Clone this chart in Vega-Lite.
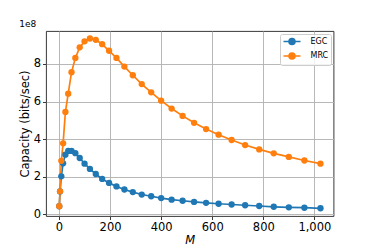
{
  "$schema": "https://vega.github.io/schema/vega-lite/v6.json",
  "autosize": {"type": "none"},
  "width": 287.5,
  "height": 185,
  "padding": {"left": 46, "top": 31, "right": 38.5, "bottom": 32},
  "background": "white",
  "title": {"text": "1e8", "anchor": "start", "fontSize": 9, "fontWeight": "normal", "font": "DejaVu Sans", "color": "#000", "offset": 2},
  "config": {
    "font": "DejaVu Sans",
    "view": {"stroke": "#222", "strokeWidth": 0.9},
    "axis": {
      "grid": true, "gridColor": "#b0b0b0", "gridWidth": 1, "gridOpacity": 0.9,
      "domain": false, "tickColor": "#222", "tickSize": 3.5, "tickWidth": 0.9,
      "labelFontSize": 11.5, "labelColor": "#000", "labelFont": "DejaVu Sans",
      "titleFontSize": 11.5, "titleFontWeight": "normal", "titleColor": "#000", "titleFont": "DejaVu Sans"
    }
  },
  "data": {"values": [
    {"M":1,"Scheme":"EGC","Capacity":44000000},
    {"M":4,"Scheme":"EGC","Capacity":122000000},
    {"M":9,"Scheme":"EGC","Capacity":203000000},
    {"M":16,"Scheme":"EGC","Capacity":272000000},
    {"M":25,"Scheme":"EGC","Capacity":318000000},
    {"M":36,"Scheme":"EGC","Capacity":338000000},
    {"M":49,"Scheme":"EGC","Capacity":338000000},
    {"M":64,"Scheme":"EGC","Capacity":326000000},
    {"M":81,"Scheme":"EGC","Capacity":300000000},
    {"M":100,"Scheme":"EGC","Capacity":270000000},
    {"M":121,"Scheme":"EGC","Capacity":242000000},
    {"M":144,"Scheme":"EGC","Capacity":215000000},
    {"M":169,"Scheme":"EGC","Capacity":189000000},
    {"M":196,"Scheme":"EGC","Capacity":168000000},
    {"M":225,"Scheme":"EGC","Capacity":149000000},
    {"M":256,"Scheme":"EGC","Capacity":133000000},
    {"M":289,"Scheme":"EGC","Capacity":119000000},
    {"M":324,"Scheme":"EGC","Capacity":106000000},
    {"M":361,"Scheme":"EGC","Capacity":97000000},
    {"M":400,"Scheme":"EGC","Capacity":87000000},
    {"M":441,"Scheme":"EGC","Capacity":79000000},
    {"M":484,"Scheme":"EGC","Capacity":73000000},
    {"M":529,"Scheme":"EGC","Capacity":67000000},
    {"M":576,"Scheme":"EGC","Capacity":62000000},
    {"M":625,"Scheme":"EGC","Capacity":57000000},
    {"M":676,"Scheme":"EGC","Capacity":53000000},
    {"M":729,"Scheme":"EGC","Capacity":49000000},
    {"M":784,"Scheme":"EGC","Capacity":45000000},
    {"M":841,"Scheme":"EGC","Capacity":41000000},
    {"M":900,"Scheme":"EGC","Capacity":38000000},
    {"M":961,"Scheme":"EGC","Capacity":36000000},
    {"M":1024,"Scheme":"EGC","Capacity":33000000},
    {"M":1,"Scheme":"MRC","Capacity":44000000},
    {"M":4,"Scheme":"MRC","Capacity":123000000},
    {"M":9,"Scheme":"MRC","Capacity":285000000},
    {"M":16,"Scheme":"MRC","Capacity":378000000},
    {"M":25,"Scheme":"MRC","Capacity":545000000},
    {"M":36,"Scheme":"MRC","Capacity":642000000},
    {"M":49,"Scheme":"MRC","Capacity":756000000},
    {"M":64,"Scheme":"MRC","Capacity":832000000},
    {"M":81,"Scheme":"MRC","Capacity":888000000},
    {"M":100,"Scheme":"MRC","Capacity":920000000},
    {"M":121,"Scheme":"MRC","Capacity":935000000},
    {"M":144,"Scheme":"MRC","Capacity":928000000},
    {"M":169,"Scheme":"MRC","Capacity":905000000},
    {"M":196,"Scheme":"MRC","Capacity":870000000},
    {"M":225,"Scheme":"MRC","Capacity":832000000},
    {"M":256,"Scheme":"MRC","Capacity":786000000},
    {"M":289,"Scheme":"MRC","Capacity":740000000},
    {"M":324,"Scheme":"MRC","Capacity":693000000},
    {"M":361,"Scheme":"MRC","Capacity":649000000},
    {"M":400,"Scheme":"MRC","Capacity":605000000},
    {"M":441,"Scheme":"MRC","Capacity":563000000},
    {"M":484,"Scheme":"MRC","Capacity":524000000},
    {"M":529,"Scheme":"MRC","Capacity":487000000},
    {"M":576,"Scheme":"MRC","Capacity":454000000},
    {"M":625,"Scheme":"MRC","Capacity":424000000},
    {"M":676,"Scheme":"MRC","Capacity":396000000},
    {"M":729,"Scheme":"MRC","Capacity":369000000},
    {"M":784,"Scheme":"MRC","Capacity":346000000},
    {"M":841,"Scheme":"MRC","Capacity":325000000},
    {"M":900,"Scheme":"MRC","Capacity":306000000},
    {"M":961,"Scheme":"MRC","Capacity":287000000},
    {"M":1024,"Scheme":"MRC","Capacity":270000000}
  ]},
  "mark": {"type": "line", "strokeWidth": 1.7, "point": {"filled": true, "size": 40, "opacity": 1}},
  "encoding": {
    "x": {"field": "M", "type": "quantitative",
      "scale": {"domain": [-51, 1075], "nice": false, "zero": false},
      "axis": {"values": [0, 200, 400, 600, 800, 1000], "title": "M", "titleFontStyle": "italic", "labelPadding": 2, "titlePadding": 1}},
    "y": {"field": "Capacity", "type": "quantitative",
      "scale": {"domain": [-8000000, 975000000], "nice": false, "zero": false},
      "axis": {"values": [0, 200000000, 400000000, 600000000, 800000000], "labelExpr": "format(datum.value/1e8, 'd')", "title": "Capacity (bits/sec)", "labelPadding": 2, "titlePadding": 3}},
    "color": {"field": "Scheme", "type": "nominal",
      "scale": {"domain": ["EGC", "MRC"], "range": ["#1f77b4", "#ff7f0e"]},
      "legend": {
        "title": null, "orient": "none", "legendX": 234, "legendY": 3,
        "symbolType": "M-1,0H3.25M1.875,0A0.75,0.75,0,1,1,0.375,0A0.75,0.75,0,1,1,1.875,0Z",
        "symbolSize": 64, "symbolStrokeWidth": 1.6,
        "labelFontSize": 8, "labelFont": "DejaVu Sans", "labelColor": "#000",
        "rowPadding": 0.5, "padding": 2.5, "labelOffset": 18,
        "strokeColor": "#cccccc", "fillColor": "rgba(255,255,255,0.8)", "cornerRadius": 2,
        "encode": {"symbols": {"update": {"fill": {"scale": "color", "field": "value"}, "fillOpacity": {"value": 1}}}}
      }}
  }
}
